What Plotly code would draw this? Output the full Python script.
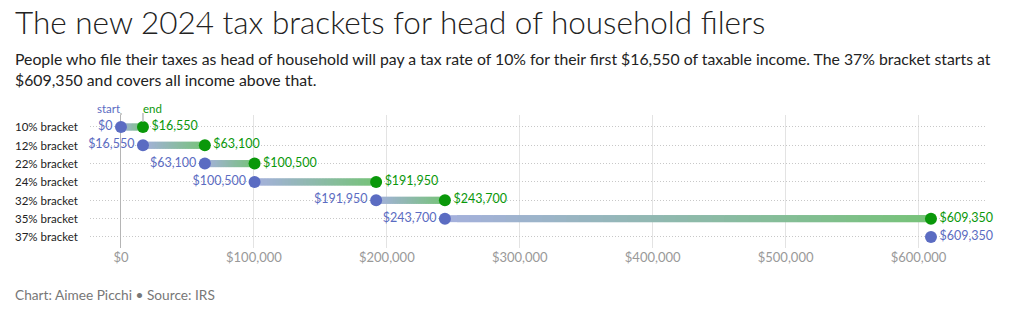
import plotly.graph_objects as go

brackets = ["10% bracket", "12% bracket", "22% bracket", "24% bracket",
            "32% bracket", "35% bracket", "37% bracket"]
starts = [0, 16550, 63100, 100500, 191950, 243700, 609350]
ends = [16550, 63100, 100500, 191950, 243700, 609350, None]
tick_vals = [0, 100000, 200000, 300000, 400000, 500000, 600000]
tick_text = ["$0", "$100,000", "$200,000", "$300,000", "$400,000", "$500,000", "$600,000"]

START_C = "#5b6cc2"
END_C = "#0a980a"
GRAD_A = (165, 176, 221)
GRAD_B = (118, 195, 120)

W, H = 1019, 325
L, R, T, B = 90, 34, 115, 77
PW = W - L - R
PH = H - T - B


def px_x(px):
    return (px - L) / PW


def px_y(py):
    return (H - B - py) / PH


def fmt(v):
    return "${:,}".format(v)


ys = list(range(len(brackets)))
fig = go.Figure()

shapes = []
N = 40
for i, (s, e) in enumerate(zip(starts, ends)):
    if e is None:
        continue
    for k in range(N):
        x0 = s + (e - s) * k / N
        x1 = min(e, s + (e - s) * (k + 2) / N)
        t = (k + 0.5) / N
        c = tuple(round(GRAD_A[j] + (GRAD_B[j] - GRAD_A[j]) * t) for j in range(3))
        shapes.append(dict(type="line", xref="x", yref="y", x0=x0, x1=x1,
                           y0=i, y1=i, layer="between",
                           line=dict(color="rgb(%d,%d,%d)" % c, width=7)))

# start / end legend ticks
shapes.append(dict(type="line", xref="x", yref="paper", x0=0, x1=0, y0=1.0, y1=px_y(113),
                   line=dict(color="#bbbbbb", width=1.5)))
shapes.append(dict(type="line", xref="x", yref="paper", x0=ends[0], x1=ends[0], y0=px_y(122),
                   y1=px_y(113), line=dict(color="#bbbbbb", width=1.5)))

e_y = [y for y, e in zip(ys, ends) if e is not None]
e_x = [e for e in ends if e is not None]
fig.add_trace(go.Scatter(x=starts, y=ys, mode="markers+text",
                         marker=dict(size=12, color=START_C),
                         text=[fmt(v) for v in starts],
                         textposition=["middle left"] * 6 + ["middle right"],
                         textfont=dict(color=START_C, size=12.5, family="Lato"),
                         cliponaxis=False, hoverinfo="skip"))
fig.add_trace(go.Scatter(x=e_x, y=e_y, mode="markers+text",
                         marker=dict(size=12, color=END_C),
                         text=[fmt(v) for v in e_x],
                         textposition="middle right",
                         textfont=dict(color=END_C, size=12.5, family="Lato"),
                         cliponaxis=False, hoverinfo="skip"))

annotations = []
for i, b in enumerate(brackets):
    annotations.append(dict(text=b, x=px_x(13), xref="paper", y=i, yref="y",
                            xanchor="left", yanchor="middle", showarrow=False,
                            font=dict(size=11.5, color="#222222", family="Lato")))
annotations.append(dict(text="start", x=0, xref="x", y=px_y(108), yref="paper", xanchor="right",
                        xshift=1, yanchor="middle", showarrow=False,
                        font=dict(size=11.5, color=START_C, family="Lato")))
annotations.append(dict(text="end", x=ends[0], xref="x", y=px_y(108), yref="paper", xanchor="left",
                        xshift=-2, yanchor="middle", showarrow=False,
                        font=dict(size=11.5, color=END_C, family="Lato")))
annotations.append(dict(text="The new 2024 tax brackets for head of household filers",
                        x=px_x(13), xref="paper", y=px_y(22), yref="paper",
                        xanchor="left", yanchor="middle", showarrow=False,
                        font=dict(size=31.5, color="#222222", family="Lato", weight=300)))
annotations.append(dict(text="People who file their taxes as head of household will pay a tax rate of 10% for their first $16,550 of taxable income. The 37% bracket starts at<br>$609,350 and covers all income above that.",
                        x=px_x(13), xref="paper", y=px_y(69), yref="paper",
                        xanchor="left", yanchor="middle", align="left", showarrow=False,
                        font=dict(size=15.8, color="#222222", family="Lato")))
annotations.append(dict(text="Chart: Aimee Picchi • Source: IRS",
                        x=px_x(13), xref="paper", y=px_y(294), yref="paper",
                        xanchor="left", yanchor="middle", showarrow=False,
                        font=dict(size=13.7, color="#777777", family="Lato")))

fig.update_layout(
    width=W, height=H,
    margin=dict(l=L, r=R, t=T, b=B),
    paper_bgcolor="white", plot_bgcolor="white",
    showlegend=False,
    shapes=shapes, annotations=annotations,
    xaxis=dict(range=[-23300, 650000], tickvals=tick_vals, ticktext=tick_text,
               showgrid=True, gridcolor="#e3e3e3", gridwidth=1,
               zeroline=True, zerolinecolor="#b5b5b5", zerolinewidth=1,
               tickfont=dict(size=13, color="#999999", family="Lato"),
               ticks="", showline=False, fixedrange=True),
    yaxis=dict(range=[6.6, -0.65], tickvals=ys, showticklabels=False,
               showgrid=True, gridcolor="#c8c8c8", griddash="1px,2px", gridwidth=1,
               zeroline=False, showline=False, fixedrange=True),
)

fig.write_html("out.html")
